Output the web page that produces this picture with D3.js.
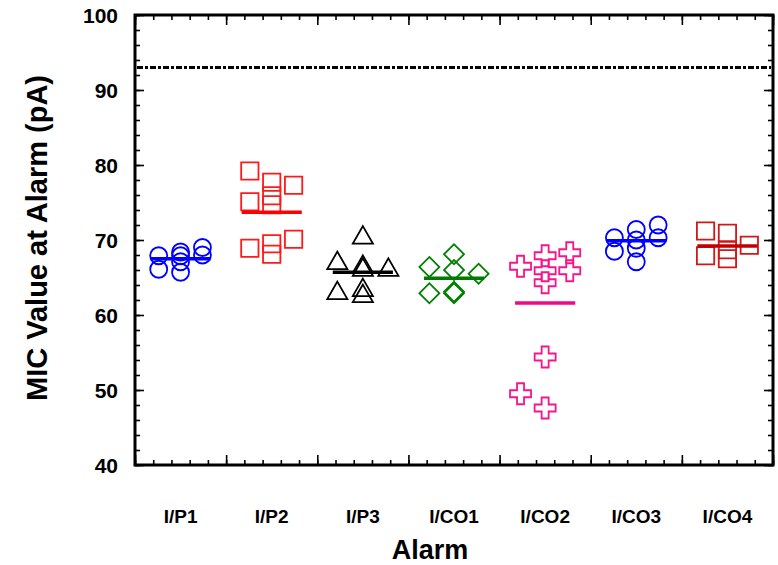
<!DOCTYPE html>
<html>
<head>
<meta charset="utf-8">
<script src="https://cdn.jsdelivr.net/npm/d3@7"></script>
<style>
  body { margin: 0; background: #fff; }
  text { font-family: "Liberation Sans", Arial, sans-serif; font-weight: bold; }
</style>
</head>
<body>
<script>
// data
var categories = ["I/P1", "I/P2", "I/P3", "I/CO1", "I/CO2", "I/CO3", "I/CO4"];

// values per alarm, with the column each marker sits in (-1 left, 0 mid, 1 right)
var valuesP1  = [67.9, 66.1, 68.4, 67.9, 67.1, 65.7, 69.0, 68.0];
var colsP1    = [-1, -1, 0, 0, 0, 0, 1, 1];
var valuesP2  = [79.2, 75.1, 68.9, 77.7, 75.9, 74.7, 69.5, 68.1, 77.3, 70.1];
var colsP2    = [-1, -1, -1, 0, 0, 0, 0, 0, 1, 1];
var valuesP3  = [70.3, 66.9, 66.4, 66.0, 66.0, 62.9, 63.3, 62.5];
var colsP3    = [0, -1, 0, 0, 1, -1, 0, 0];
var valuesCO1 = [66.4, 68.1, 66.0, 65.5, 62.9, 63.1, 62.9];
var colsCO1   = [-1, 0, 0, 1, -1, 0, 0];
var valuesCO2 = [66.5, 67.9, 65.9, 64.3, 68.3, 65.9, 54.4, 49.5, 47.6];
var colsCO2   = [-1, 0, 0, 0, 1, 1, 0, -1, 0];
var valuesCO3 = [70.3, 68.5, 71.4, 70.0, 68.9, 67.1, 72.0, 70.3];
var colsCO3   = [-1, -1, 0, 0, 0, 0, 1, 1];
var valuesCO4 = [71.2, 67.9, 70.9, 68.7, 67.5, 69.3];
var colsCO4   = [-1, -1, 0, 0, 0, 1];

// horizontal bar through each group
var groupMeans = [67.5, 73.7, 65.7, 64.9, 61.6, 69.9, 69.2];
var limitValue = 93;

var yTicks = [40, 50, 60, 70, 80, 90, 100];

var groups = [
  {vals: valuesP1,  cols: colsP1,  shape: "circle",   color: "#0000ff", line: "#0000ff"},
  {vals: valuesP2,  cols: colsP2,  shape: "square",   color: "#ff1a1a", line: "#ff0000"},
  {vals: valuesP3,  cols: colsP3,  shape: "triangle", color: "#000000", line: "#000000"},
  {vals: valuesCO1, cols: colsCO1, shape: "diamond",  color: "#008000", line: "#007a00"},
  {vals: valuesCO2, cols: colsCO2, shape: "cross",    color: "#f5168c", line: "#ee0a85"},
  {vals: valuesCO3, cols: colsCO3, shape: "circle",   color: "#0000ff", line: "#0000ff"},
  {vals: valuesCO4, cols: colsCO4, shape: "square",   color: "#d01818", line: "#c00000"}
];

var plotL = 135, plotR = 773, plotT = 15, plotB = 465;

var svg = d3.select("body").append("svg")
  .attr("width", 778)
  .attr("height", 565);

var x = d3.scaleLinear().domain([0, 7]).range([plotL, plotR]);
var y = d3.scaleLinear().domain([40, 100]).range([plotB, plotT]);

// ticks, all pointing inward, on every side
var minorX = d3.range(0, 7.01, 0.2), minorY = d3.range(40, 100.1, 2);

function tickAxis(g, axis) { g.call(axis); g.select(".domain").remove(); g.selectAll("text").remove(); g.selectAll("line").attr("stroke", "#000").attr("stroke-width", 1.6); }

svg.append("g").attr("transform", "translate(0," + plotB + ")")
  .call(tickAxis, d3.axisBottom(x).tickValues(minorX).tickSize(-5));
svg.append("g").attr("transform", "translate(0," + plotB + ")")
  .call(tickAxis, d3.axisBottom(x).tickValues(d3.range(0, 8)).tickSize(-10));
svg.append("g").attr("transform", "translate(0," + plotT + ")")
  .call(tickAxis, d3.axisTop(x).tickValues(minorX).tickSize(-5));
svg.append("g").attr("transform", "translate(0," + plotT + ")")
  .call(tickAxis, d3.axisTop(x).tickValues(d3.range(0, 8)).tickSize(-10));
svg.append("g").attr("transform", "translate(" + plotL + ",0)")
  .call(tickAxis, d3.axisLeft(y).tickValues(minorY).tickSize(-5));
svg.append("g").attr("transform", "translate(" + plotL + ",0)")
  .call(tickAxis, d3.axisLeft(y).tickValues(yTicks).tickSize(-9));
svg.append("g").attr("transform", "translate(" + plotR + ",0)")
  .call(tickAxis, d3.axisRight(y).tickValues(minorY).tickSize(-5));
svg.append("g").attr("transform", "translate(" + plotR + ",0)")
  .call(tickAxis, d3.axisRight(y).tickValues(yTicks).tickSize(-9));

// frame
svg.append("rect")
  .attr("x", plotL).attr("y", plotT)
  .attr("width", plotR - plotL).attr("height", plotB - plotT)
  .attr("fill", "none").attr("stroke", "#000").attr("stroke-width", 3);

// y tick labels
svg.append("g").selectAll("text").data(yTicks).enter().append("text")
  .attr("x", 118)
  .attr("y", function(d) { return y(d) + 8; })
  .attr("text-anchor", "end")
  .style("font-size", "21px")
  .text(function(d) { return d; });

// category labels
svg.append("g").selectAll("text").data(categories).enter().append("text")
  .attr("x", function(d, i) { return x(i + 0.5); })
  .attr("y", 523)
  .attr("text-anchor", "middle")
  .style("font-size", "19px")
  .text(function(d) { return d; });

svg.append("text")
  .attr("x", 430).attr("y", 559)
  .attr("text-anchor", "middle")
  .style("font-size", "27px")
  .text("Alarm");

svg.append("text")
  .attr("transform", "translate(47,238) rotate(-90)")
  .attr("text-anchor", "middle")
  .style("font-size", "29px")
  .text("MIC Value at Alarm (pA)");

// dashed limit line
svg.append("line")
  .attr("x1", plotL + 2).attr("x2", plotR - 2)
  .attr("y1", y(limitValue)).attr("y2", y(limitValue))
  .attr("stroke", "#000").attr("stroke-width", 3)
  .attr("stroke-dasharray", "6,2,3,2");

var symbols = {
  circle:   {type: d3.symbolCircle,   size: 227, rot: 0,  spread: 0.24},
  square:   {type: d3.symbolSquare,   size: 300, rot: 0,  spread: 0.24},
  triangle: {type: d3.symbolTriangle, size: 175, rot: 0,  spread: 0.28},
  diamond:  {type: d3.symbolSquare,   size: 200, rot: 45, spread: 0.27},
  cross:    {type: d3.symbolCross,    size: 245, rot: 0,  spread: 0.27}
};

groups.forEach(function(g, i) {
  var s = symbols[g.shape];
  var path = d3.symbol().type(s.type).size(s.size);
  svg.append("g").selectAll("path").data(g.vals).enter().append("path")
    .attr("d", path)
    .attr("transform", function(d, j) {
      return "translate(" + x(i + 0.5 + g.cols[j] * s.spread) + "," + y(d) + ") rotate(" + s.rot + ")";
    })
    .attr("fill", "none")
    .attr("stroke", g.color)
    .attr("stroke-width", 1.8);

  svg.append("line")
    .attr("x1", x(i + 0.5 - 0.33)).attr("x2", x(i + 0.5 + 0.33))
    .attr("y1", y(groupMeans[i])).attr("y2", y(groupMeans[i]))
    .attr("stroke", g.line)
    .attr("stroke-width", 3.5);
});
</script>
</body>
</html>
